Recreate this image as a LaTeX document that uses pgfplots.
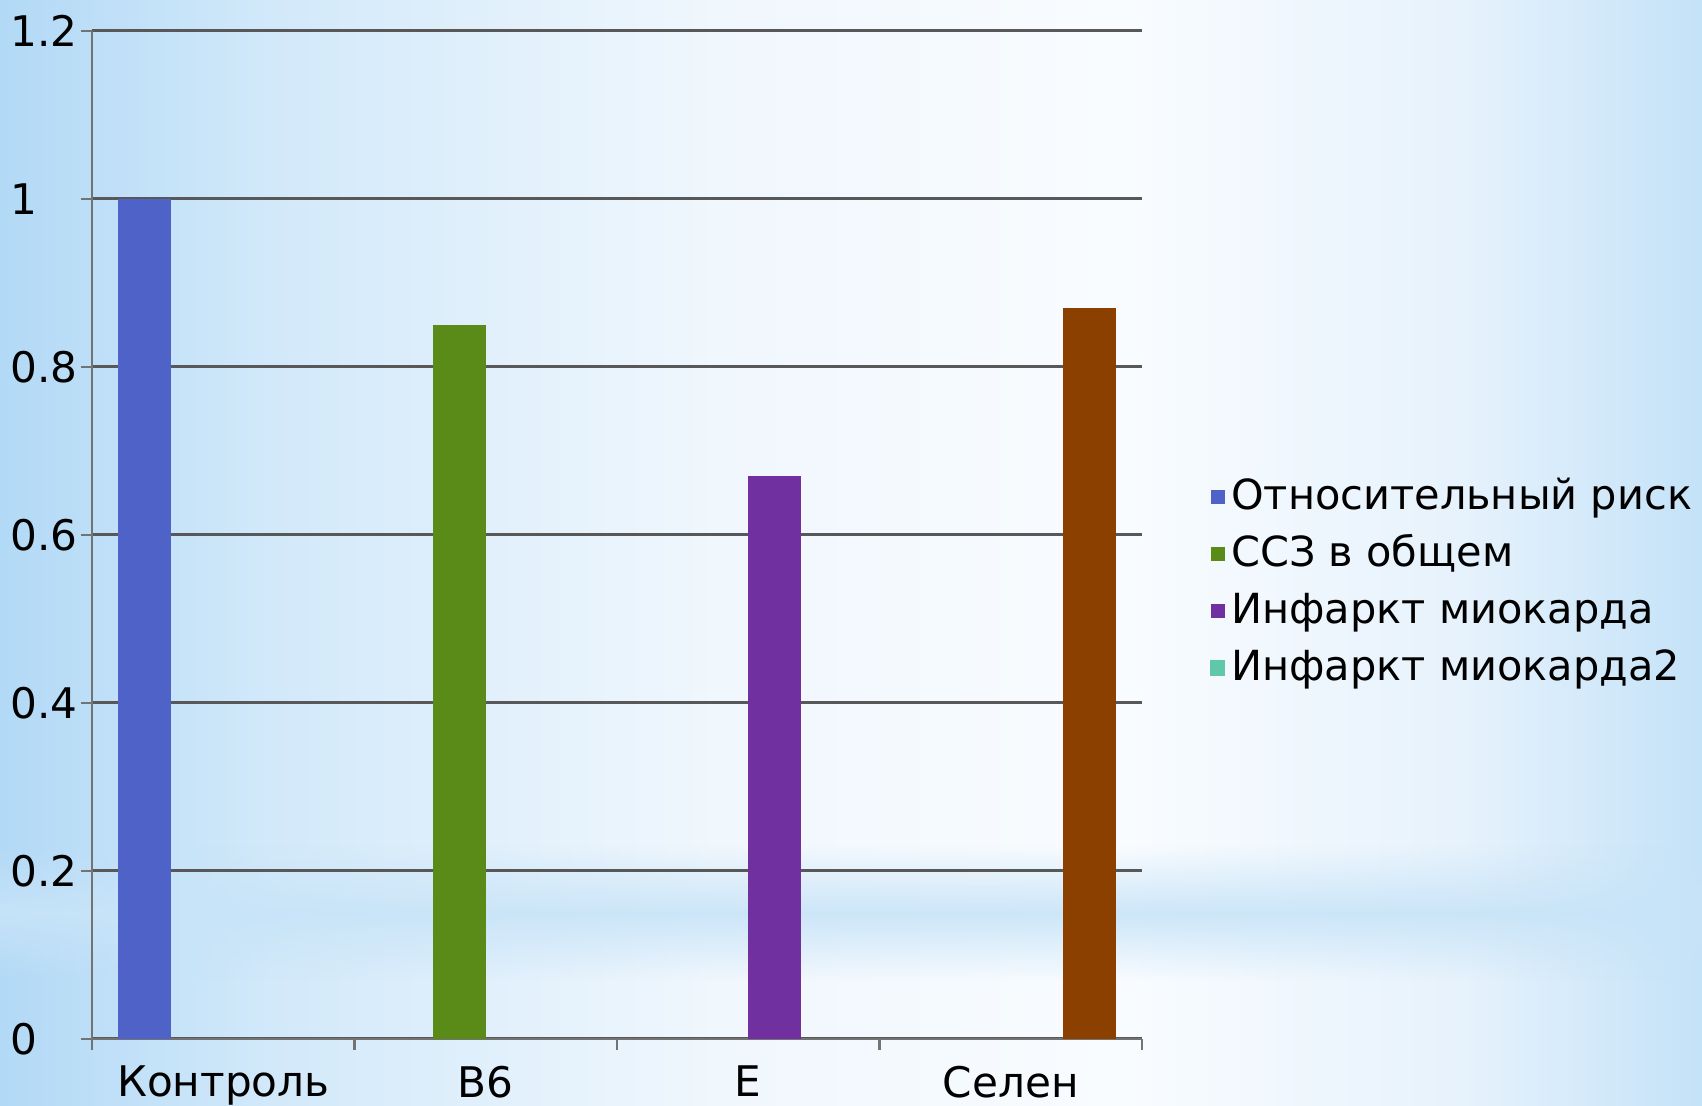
\documentclass[border=0pt]{standalone}
\usepackage{fontspec}
\setmainfont{DejaVu Sans}
\usepackage{pgfplots}
\pgfplotsset{compat=1.18}
\usetikzlibrary{fadings}
\definecolor{cBlue}{RGB}{79,98,200}
\definecolor{cGreen}{RGB}{90,138,24}
\definecolor{cPurple}{RGB}{112,48,160}
\definecolor{cBrown}{RGB}{140,64,0}
\definecolor{cTeal}{RGB}{96,200,168}
\definecolor{gridgray}{RGB}{88,88,88}
\definecolor{axgray}{RGB}{115,115,115}
\definecolor{bgA}{RGB}{178,217,246}
\definecolor{bgB}{RGB}{210,233,250}
\definecolor{bgC}{RGB}{240,247,253}
\definecolor{bgD}{RGB}{249,252,255}
\definecolor{bgE}{RGB}{230,242,252}
\definecolor{bgF}{RGB}{196,226,248}
\definecolor{band}{RGB}{200,228,248}
\pgfdeclarehorizontalshading{bg}{100bp}{color(0bp)=(bgA); color(25bp)=(bgA); color(33bp)=(bgB); color(46bp)=(bgC); color(58bp)=(bgD); color(68bp)=(bgE); color(75bp)=(bgF); color(100bp)=(bgF)}
\tikzfading[name=bandfade, top color=transparent!100, bottom color=transparent!100, middle color=transparent!0]
\begin{document}
\begin{tikzpicture}
\path[use as bounding box] (0,0) rectangle (170.2mm,110.6mm);
\shade[shading=bg] (0,0) rectangle (170.2mm,110.6mm);
\fill[band, path fading=bandfade, fill opacity=0.9] (0,12.5mm) rectangle (170.2mm,26mm);
\begin{axis}[
  at={(9.2mm,6.7mm)}, anchor=south west,
  width=105mm, height=100.8mm, scale only axis,
  xmin=-0.5, xmax=3.5, ymin=0, ymax=1.2,
  ybar, bar width=0.2,
  axis x line=bottom, axis y line=left,
  axis line style={-, draw=axgray, line width=0.25mm},
  tick align=outside,
  major tick length=1.1mm, minor tick length=1.1mm,
  tick style={draw=axgray, line width=0.25mm},
  xtick={0,1,2,3},
  xticklabels={Контроль,B6,E,Селен},
  major x tick style={draw=none},
  minor xtick={-0.5,0.5,1.5,2.5,3.5},
  ytick={0,0.2,0.4,0.6,0.8,1,1.2},
  ymajorgrids,
  major grid style={draw=gridgray, line width=0.3mm},
  /pgf/number format/assume math mode=true,
  ticklabel style={font=\fontsize{12}{14.5}\selectfont, text=black},
  xticklabel style={yshift=-0.35mm},
  yticklabel style={text width=7mm, align=left, inner sep=0pt, anchor=east, xshift=0mm},
  legend cell align=left,
  legend style={at={(1.064,0.45)}, anchor=west, draw=none, fill=none,
    font=\fontsize{11.8}{14.3}\selectfont, inner sep=0pt, row sep=1.1mm,
    column sep=0pt,
    nodes={text height=3mm, text depth=1mm, inner xsep=0.6mm, inner ysep=0.3mm}},
]
\addplot[fill=cBlue, draw=none, bar shift=-0.3,
  legend image code/.code={\fill[cBlue] (0mm,-0.4mm) rectangle (1.4mm,1.0mm);}] coordinates {(0,1)};
\addplot[fill=cGreen, draw=none, bar shift=-0.1,
  legend image code/.code={\fill[cGreen] (0mm,-0.4mm) rectangle (1.4mm,1.0mm);}] coordinates {(1,0.85)};
\addplot[fill=cPurple, draw=none, bar shift=0.1,
  legend image code/.code={\fill[cPurple] (0mm,-0.4mm) rectangle (1.4mm,1.0mm);}] coordinates {(2,0.67)};
\addplot[fill=cBrown, draw=none, bar shift=0.3, forget plot] coordinates {(3,0.87)};
\addlegendimage{legend image code/.code={\fill[cTeal] (0mm,-0.4mm) rectangle (1.4mm,1.0mm);}}
\legend{Относительный риск, ССЗ в общем, Инфаркт миокарда, Инфаркт миокарда2}
\end{axis}
\end{tikzpicture}
\end{document}
